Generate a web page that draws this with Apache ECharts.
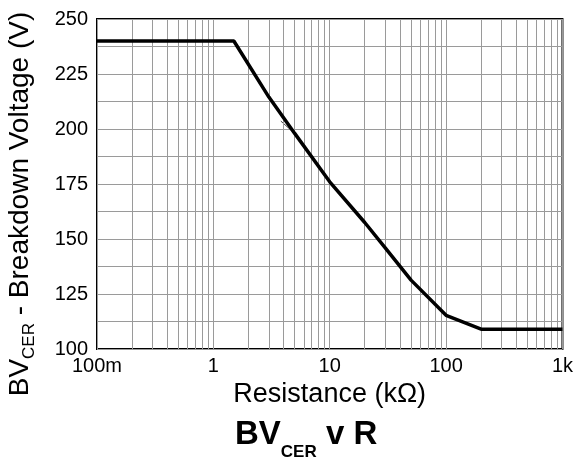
<!DOCTYPE html>
<html>
<head>
<meta charset="utf-8">
<script src="https://cdn.jsdelivr.net/npm/echarts@6/dist/echarts.min.js"></script>
<style>html,body{margin:0;padding:0;background:#fff}#c{width:576px;height:459px}</style>
</head>
<body>
<div id="c"></div>
<script>
// Resistance (kΩ) vs breakdown voltage (V)
const resistance = [0.1, 1.5, 3, 5, 10, 20, 30, 50, 100, 200, 1000];
const voltage    = [240, 240, 214.5, 198, 176, 157.5, 146, 131.3, 115.3, 109, 109];
// faint stray trace visible beside the main curve
const strayR = [3.8, 4.9, 10];
const strayV = [203.6, 198.4, 176.5];
const xTickValues = [0.1, 1, 10, 100, 1000];
const xTickLabels = ['100m', '1', '10', '100', '1k'];
const minorGrid = [0.2,0.3,0.4,0.5,0.6,0.7,0.8,0.9,2,3,4,5,6,7,8,9,20,30,40,50,60,70,80,90,200,300,400,500,600,700,800,900];

const font = 'Liberation Sans, Arial, Helvetica, sans-serif';
const gridColor = '#9a9a9a';
const chart = echarts.init(document.getElementById('c'), null, {renderer: 'canvas'});
chart.setOption({
  animation: false,
  backgroundColor: '#fff',
  grid: {left: 97, right: 12, top: 19, bottom: 110, show: true, borderColor: '#000', borderWidth: 2, backgroundColor: 'transparent'},
  title: {
    left: 230, top: 413,
    text: '{a|BV}{b|CER}{a| v R}',
    textStyle: {
      rich: {
        a: {fontFamily: font, fontSize: 33, fontWeight: 'bold', color: '#000', lineHeight: 40, verticalAlign: 'top'},
        b: {fontFamily: font, fontSize: 17, fontWeight: 'bold', color: '#000', lineHeight: 17, padding: [26, 0, 0, 0], verticalAlign: 'top'}
      }
    }
  },
  graphic: [{
    type: 'text', x: 22, y: 204, rotation: Math.PI / 2,
    style: {
      text: '{a|BV}{b|CER}{a| - Breakdown Voltage (V)}',
      align: 'center', verticalAlign: 'middle',
      rich: {
        a: {fontFamily: font, fontSize: 28, color: '#000', lineHeight: 32, verticalAlign: 'top'},
        b: {fontFamily: font, fontSize: 17, color: '#000', lineHeight: 17, padding: [15, 0, 0, 0], verticalAlign: 'top'}
      }
    }
  }],
  xAxis: {
    type: 'log', logBase: 10, min: 0.1, max: 1000,
    name: 'Resistance (kΩ)', nameLocation: 'middle', nameGap: 30,
    nameTextStyle: {fontFamily: font, fontSize: 27, color: '#000'},
    axisLine: {show: false}, axisTick: {show: false},
    axisLabel: {
      fontFamily: font, fontSize: 20, color: '#000', margin: 7, showMinLabel: true, showMaxLabel: true,
      formatter: function (v) {
        for (let i = 0; i < xTickValues.length; i++) {
          if (Math.abs(Math.log10(v) - Math.log10(xTickValues[i])) < 1e-6) return xTickLabels[i];
        }
        return '';
      }
    },
    splitLine: {show: true, lineStyle: {color: gridColor, width: 1}}
  },
  yAxis: {
    type: 'value', min: 100, max: 250, interval: 12.5,
    axisLine: {show: false}, axisTick: {show: false},
    axisLabel: {
      fontFamily: font, fontSize: 20, color: '#000', margin: 9,
      formatter: function (v) { return (Math.abs(v % 25) < 1e-6) ? String(v) : ''; }
    },
    splitLine: {show: true, lineStyle: {color: gridColor, width: 1}}
  },
  series: [
    {
      type: 'line', data: [[1, 100]], symbol: 'none', lineStyle: {opacity: 0}, z: 1, silent: true,
      markLine: {
        silent: true, symbol: ['none', 'none'], animation: false,
        label: {show: false},
        lineStyle: {color: gridColor, width: 1, type: 'solid'},
        emphasis: {disabled: true},
        data: minorGrid.map(v => ({xAxis: v}))
      }
    },
    {
      type: 'line', data: strayR.map((r, i) => [r, strayV[i]]), symbol: 'none', z: 3,
      lineStyle: {color: '#444', width: 1}
    },
    {
      type: 'line', data: resistance.map((r, i) => [r, voltage[i]]), symbol: 'none', z: 5,
      lineStyle: {color: '#000', width: 3.5}
    }
  ]
});
</script>
</body>
</html>
